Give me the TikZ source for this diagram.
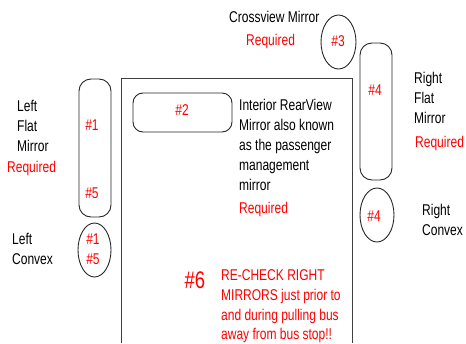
\documentclass[tikz,border=0pt]{standalone}
\usepackage{fontspec}
\setmainfont[FakeStretch=0.77]{Liberation Sans}
\begin{document}
\begin{tikzpicture}[x=1pt,y=-1pt,
  lbl/.style={anchor=base west,inner sep=0pt,font=\fontsize{15.6}{20}\selectfont},
  red lbl/.style={lbl,text=red},
  num/.style={anchor=center,inner sep=0pt,text=red,font=\fontsize{15.6}{20}\selectfont},
  mirror/.style={draw=black!85,line width=0.9pt,rounded corners=12pt},
  convex/.style={draw=black!85,line width=0.9pt},
  bus/.style={draw=black!75,line width=0.9pt}]
\useasboundingbox (0,0) rectangle (466,343);
% bus outline
\coordinate (bl) at (121,343);
\coordinate (tl) at (121,78);
\coordinate (tr) at (352,78);
\coordinate (br) at (352,343);
\draw[bus] (bl) -- (tl) -- (tr) -- (br);
% mirrors
\draw[mirror] (79,79) rectangle (111,217);
\draw[mirror,rounded corners=10pt] (133,93) rectangle (232,132);
\draw[mirror] (360,43) rectangle (392,180);
\draw[convex] (94.5,250) ellipse [x radius=16.5,y radius=27];
\draw[convex] (338.5,42) ellipse [x radius=17.5,y radius=27];
\draw[convex] (377,215) ellipse [x radius=17,y radius=27];
% numbers
\node[num] (n1) at (92,125) {\#1};
\node[num] (n5) at (92,193) {\#5};
\node[num] (c1) at (93,239) {\#1};
\node[num] (c5) at (93,259) {\#5};
\node[num] (n2) at (182,110) {\#2};
\node[num] (n3) at (338,41) {\#3};
\node[num] (n4) at (375,90) {\#4};
\node[num] (c4) at (374,216) {\#4};
% crossview
\node[lbl] (cv) at (229,22.5) {Crossview Mirror};
\node[red lbl] (cvr) at (246,45.5) {Required};
% left flat
\node[lbl] (lf1) at (17,111.5) {Left};
\node[lbl] (lf2) at (17,131.5) {Flat};
\node[lbl] (lf3) at (17,151.5) {Mirror};
\node[red lbl] (lfr) at (7,172.5) {Required};
% left convex
\node[lbl] (lc1) at (12,244.5) {Left};
\node[lbl] (lc2) at (12,264.5) {Convex};
% interior
\node[lbl] (i1) at (239,110.5) {Interior RearView};
\node[lbl] (i2) at (239,130.5) {Mirror also known};
\node[lbl] (i3) at (239,150.5) {as the passenger};
\node[lbl] (i4) at (239,170.5) {management};
\node[lbl] (i5) at (239,190.5) {mirror};
\node[red lbl] (ir) at (239,213.5) {Required};
% right flat
\node[lbl] (rf1) at (414,83.5) {Right};
\node[lbl] (rf2) at (414,103.5) {Flat};
\node[lbl] (rf3) at (414,123.5) {Mirror};
\node[red lbl] (rfr) at (415,147.5) {Required};
% right convex
\node[lbl] (rc1) at (422,215.5) {Right};
\node[lbl] (rc2) at (422,235.5) {Convex};
% #6
\node[num,font=\fontsize{24}{28}\selectfont] (n6) at (195,280.5) {\#6};
\node[red lbl] (r1) at (221,280) {RE-CHECK RIGHT};
\node[red lbl] (r2) at (221,300.3) {MIRRORS just prior to};
\node[red lbl] (r3) at (221,320.3) {and during pulling bus};
\node[red lbl] (r4) at (221,339.5) {away from bus stop!!};
\end{tikzpicture}
\end{document}
